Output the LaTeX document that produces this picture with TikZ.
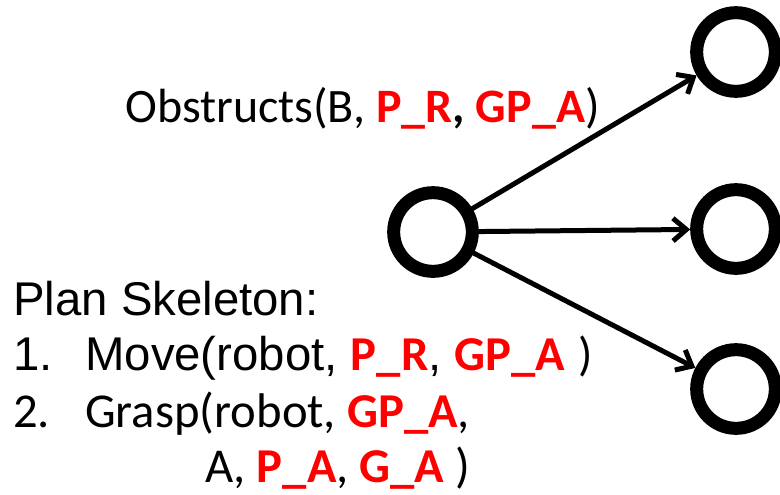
\documentclass[tikz,border=0pt]{standalone}
\usepackage{fontspec}
\setmainfont{Liberation Sans}
\newfontfamily\calibri{Carlito}
\usetikzlibrary{arrows.meta}
\tikzstyle{every path}=[line cap=round,line join=round]
\tikzstyle{statenode}=[circle,draw,line width=9.75pt,minimum size=59pt,inner sep=0pt]
\tikzstyle{edge}=[line width=3.75pt,-{Straight Barb[length=10pt,width=17pt]}]
\tikzstyle{txt}=[anchor=base west,inner sep=0pt,font=\fontsize{35.5}{40}\selectfont]
\tikzstyle{ctxt}=[anchor=base west,inner sep=0pt,font=\calibri\fontsize{36.5}{42}\selectfont]
\newcommand{\param}[1]{{\calibri\fontsize{36.5}{42}\selectfont\bfseries\color{red}#1}}

\begin{document}
\begin{tikzpicture}[x=0.75pt,y=-0.75pt]
  \useasboundingbox (0,0) rectangle (780,494);
  % search tree
  \node[statenode] (root) at (433,232) {};
  \node[statenode] (up) at (736,52) {};
  \node[statenode] (mid) at (736,229) {};
  \node[statenode] (low) at (736,389) {};
  \draw[edge] (root) -- (up);
  \draw[edge] (root) -- (mid);
  \draw[edge] (root) -- (low);
  % predicate on the first edge
  \node[ctxt,font=\calibri\fontsize{36}{42}\selectfont] (obst) at (125,122)
    {Obstructs(B, {\fontsize{36}{42}\selectfont\bfseries\color{red}P\_R}\textbf{,}
     {\fontsize{36}{42}\selectfont\bfseries\color{red}GP\_A})};
  % skeleton
  \node[txt] (plan) at (13,315) {Plan Skeleton:};
  \node[txt] (n1) at (13,370) {1.};
  \node[txt] (s1) at (85,370) {Move(robot, \param{P\_R}, \param{GP\_A} {\calibri)}};
  \node[ctxt] (n2) at (13,427) {2.};
  \node[ctxt] (s2) at (85,427) {Grasp(robot, \param{GP\_A},};
  \node[ctxt] (s2b) at (205,482) {A, \param{P\_A}, \param{G\_A} )};
\end{tikzpicture}
\end{document}
